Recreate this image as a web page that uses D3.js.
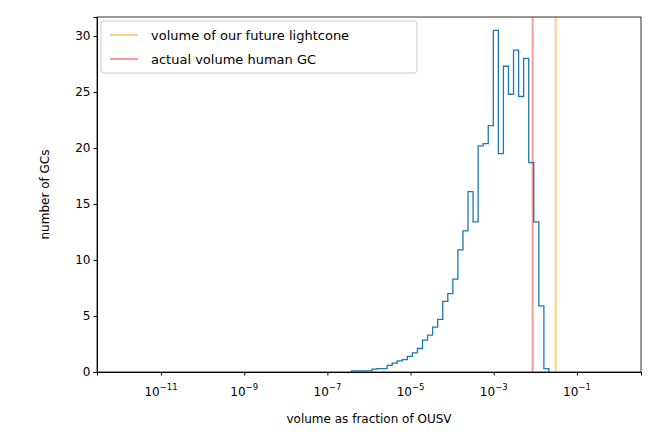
<!DOCTYPE html>
<html><head><meta charset="utf-8">
<script src="https://cdn.jsdelivr.net/npm/d3@7"></script>
<style>body{margin:0;background:#fff;font-family:"DejaVu Sans",sans-serif;}</style>
</head><body><div id="chart"></div>
<script>
// histogram bins in log10 space
const binStart = -6.416;
const binWidth = 0.1216;
const counts = [0.1,0.1,0.1,0.1,0.25,0.3,0.3,0.6,0.8,1.0,1.1,1.4,1.7,2.1,2.85,3.3,4.0,4.7,6.3,7.0,8.3,10.9,12.6,16.1,13.4,20.2,20.4,22.0,30.5,19.5,27.3,24.8,28.75,24.6,28.0,18.7,13.4,5.9,0.3];
const xTicks = [-11, -9, -7, -5, -3, -1];
const yTicks = [0, 5, 10, 15, 20, 25, 30];
const lightconeVol = Math.pow(10, -1.51);
const humanVol = Math.pow(10, -2.065);

const margin = { top: 17, right: 14, bottom: 66, left: 97 };
const w = 655 - margin.left - margin.right;
const h = 438 - margin.top - margin.bottom;

const svg = d3.select("#chart").append("svg")
    .attr("width", 655).attr("height", 438)
    .append("g")
    .attr("transform", `translate(${margin.left},${margin.top})`);

const x = d3.scaleLog().domain([Math.pow(10, -12.54), Math.pow(10, 0.54)]).range([0, w]);
const y = d3.scaleLinear().domain([0, 31.7]).range([h, 0]);

// step outline
const pts = [[Math.pow(10, binStart), 0]];
counts.forEach((c, i) => {
    pts.push([Math.pow(10, binStart + i * binWidth), c]);
    pts.push([Math.pow(10, binStart + (i + 1) * binWidth), c]);
});
pts.push([Math.pow(10, binStart + counts.length * binWidth), 0]);

svg.append("path")
    .attr("d", d3.line().x(d => x(d[0])).y(d => y(d[1]))(pts))
    .attr("fill", "none").attr("stroke", "#1f77b4").attr("stroke-width", 1.3);

svg.append("line").attr("x1", x(lightconeVol)).attr("x2", x(lightconeVol))
    .attr("y1", 0).attr("y2", h).attr("stroke", "orange").attr("stroke-opacity", 0.5).attr("stroke-width", 2);
svg.append("line").attr("x1", x(humanVol)).attr("x2", x(humanVol))
    .attr("y1", 0).attr("y2", h).attr("stroke", "red").attr("stroke-opacity", 0.4).attr("stroke-width", 2);

// axes
svg.append("g").attr("transform", `translate(0,${h})`)
    .call(d3.axisBottom(x).tickValues(xTicks.map(t => Math.pow(10, t))).tickFormat("").tickSizeOuter(0).tickSize(3.5));
xTicks.forEach(t => {
    const tx = svg.append("text").attr("x", x(Math.pow(10, t))).attr("y", h + 24)
        .attr("text-anchor", "middle").attr("font-size", 12).attr("fill", "#000");
    tx.append("tspan").text("10");
    tx.append("tspan").attr("dy", -6).attr("font-size", 8.5).text("\u2212" + Math.abs(t));
});
const yAxis = svg.append("g")
    .call(d3.axisLeft(y).tickValues(yTicks).tickSizeOuter(0).tickSize(3.5));
yAxis.selectAll("text").attr("font-size", 12).attr("font-family", "DejaVu Sans").attr("fill", "#000");
svg.append("rect").attr("width", w).attr("height", h).attr("fill", "none").attr("stroke", "#000").attr("stroke-width", 0.8);

svg.append("text").attr("x", w / 2).attr("y", h + 51).attr("text-anchor", "middle")
    .attr("font-size", 12).text("volume as fraction of OUSV");
svg.append("text").attr("transform", "rotate(-90)").attr("x", -h / 2).attr("y", -48)
    .attr("text-anchor", "middle").attr("font-size", 12).text("number of GCs");

// legend
const lg = svg.append("g").attr("transform", "translate(4,4)");
lg.append("rect").attr("width", 316).attr("height", 52).attr("rx", 3)
    .attr("fill", "#fff").attr("fill-opacity", 0.8).attr("stroke", "#ccc");
[["volume of our future lightcone", "orange", 0.5], ["actual volume human GC", "red", 0.4]].forEach((d, i) => {
    lg.append("line").attr("x1", 9).attr("x2", 37).attr("y1", 14 + i * 24).attr("y2", 14 + i * 24)
        .attr("stroke", d[1]).attr("stroke-opacity", d[2]).attr("stroke-width", 2);
    lg.append("text").attr("x", 50).attr("y", 19 + i * 24).attr("font-size", 13).text(d[0]);
});
</script>
</body></html>
